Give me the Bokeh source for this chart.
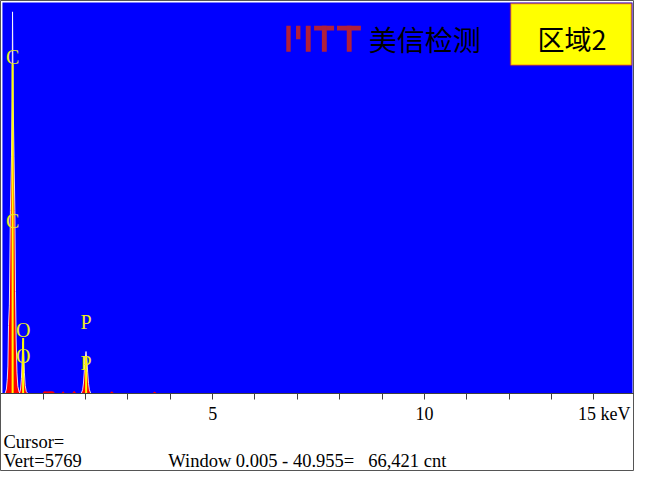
from bokeh.plotting import figure
from bokeh.models import (Range1d, FixedTicker, Label, BoxAnnotation,
                          ColumnDataSource, LinearAxis)
from bokeh.core.properties import value
from bokeh.embed import file_html
from bokeh.resources import INLINE

# ---------------- data ----------------
# C K peak
C_KEV = [0.10, 0.13, 0.15, 0.165, 0.18, 0.20, 0.225, 0.25, 0.265, 0.275, 0.29,
         0.31, 0.33, 0.345, 0.36, 0.38, 0.40, 0.43, 0.46]
C_CNT = [0, 60, 200, 400, 1000, 1300, 2700, 3500, 4300, 5630, 4300,
         3500, 2700, 1500, 800, 300, 100, 20, 0]
# O K peak
O_KEV = [0.44, 0.465, 0.485, 0.50, 0.515, 0.525, 0.54, 0.555, 0.575, 0.60, 0.63]
O_CNT = [0, 60, 220, 460, 700, 760, 560, 300, 110, 25, 0]
# P K peak
P_KEV = [1.90, 1.93, 1.95, 1.97, 1.99, 2.01, 2.03, 2.05, 2.07, 2.09, 2.12]
P_CNT = [0, 50, 150, 330, 520, 615, 500, 300, 140, 50, 0]
# small background bumps
T1_KEV = [0.98, 1.02, 1.10, 1.18, 1.24, 1.28]
T1_CNT = [0, 30, 25, 30, 25, 0]
T2_KEV = [1.43, 1.47, 1.51]
T2_CNT = [0, 30, 0]
T3_KEV = [1.68, 1.73, 1.78]
T3_CNT = [0, 35, 0]
T4_KEV = [2.57, 2.62, 2.67]
T4_CNT = [0, 30, 0]
T5_KEV = [3.58, 3.63, 3.68]
T5_CNT = [0, 25, 0]

# element markers
ELEMENTS = ["C", "O", "P"]
LINE_KEV = [0.277, 0.525, 2.013]
MARK_TOP = [4855, 814, 530]
LABEL_HI = [4970, 928, 1057]
LABEL_LO = [2540, 543, 443]

TICKS = list(range(1, 15))
TICK_LABELS = {5: "5", 10: "10"}
VERT = 5769
CURSOR_TEXT = "Cursor="
VERT_TEXT = "Vert=5769"
WINDOW_TEXT = "Window 0.005 - 40.955="
COUNT_TEXT = "66,421 cnt"
UNIT_TEXT = "15 keV"
LOGO_TEXT = "美信检测"
AREA_TEXT = "区域2"

# ---------------- layout helpers ----------------
# the plot frame covers the whole canvas; reference pixels map linearly
FIG_W, FIG_H = 634, 471
REF_W, REF_H = 650, 487
PX_PER_KEV = 43.42            # reference pixels per keV
REF_ZERO_X = 0.4              # reference pixel column of 0 keV
REF_ZERO_Y = 406              # reference pixel row of 0 counts
REF_TOP_Y = 2                 # reference pixel row of full scale (VERT)
CNT_PER_PX = VERT / (REF_ZERO_Y - REF_TOP_Y)


def rx(xr):
    return (xr - REF_ZERO_X) / PX_PER_KEV


def ry(yr):
    return (REF_ZERO_Y - yr) * CNT_PER_PX


BLUE = "#0000FF"
RED = "#FF0000"
YELLOW = "#FFFF00"
LABEL_YELLOW = "#EEEE20"
SERIF = "Liberation Serif"
CJK = "Noto Sans CJK SC"
TICK_FS = "18px"
TEXT_FS = "18.5px"

p = figure(width=FIG_W, height=FIG_H,
           x_range=Range1d(rx(0), rx(REF_W)), y_range=Range1d(ry(REF_H), ry(0)),
           output_backend="svg", toolbar_location=None,
           x_axis_location=None, y_axis_location=None,
           min_border=0)
p.background_fill_color = "white"
p.border_fill_color = "white"
p.outline_line_color = "#555555"
p.outline_line_width = 1
p.xgrid.visible = False
p.ygrid.visible = False

# blue spectrum area
p.add_layout(BoxAnnotation(left=rx(2), right=rx(648), top=ry(2), bottom=0,
                           fill_color=BLUE, fill_alpha=1.0, line_color=None,
                           level="underlay"))

ax = LinearAxis(fixed_location=0)
ax.ticker = FixedTicker(ticks=TICKS)
ax.major_label_overrides = {t: TICK_LABELS.get(t, "") for t in TICKS}
ax.axis_line_color = "#404040"
ax.axis_line_width = 1
ax.major_tick_line_color = "#404040"
ax.major_tick_out = 6
ax.major_tick_in = 0
ax.minor_tick_line_color = None
ax.major_label_text_font = SERIF
ax.major_label_text_font_size = TICK_FS
ax.major_label_text_color = "black"
ax.major_label_standoff = 8
p.add_layout(ax, "below")

# ---------------- spectrum ----------------
for kev, cnt in [(C_KEV, C_CNT), (O_KEV, O_CNT), (P_KEV, P_CNT),
                 (T1_KEV, T1_CNT), (T2_KEV, T2_CNT), (T3_KEV, T3_CNT),
                 (T4_KEV, T4_CNT), (T5_KEV, T5_CNT)]:
    src = ColumnDataSource(dict(x=kev, y=cnt, z=[0] * len(kev)))
    p.varea(x="x", y1="z", y2="y", source=src, fill_color=RED)
    if max(cnt) > 100:
        p.line(x="x", y="y", source=src, line_color="white",
               line_width=1, line_alpha=0.85)

# element marker lines
msrc = ColumnDataSource(dict(x=LINE_KEV, top=MARK_TOP, z=[0] * len(LINE_KEV),
                             hi=LABEL_HI, lo=LABEL_LO, t=ELEMENTS))
p.segment(x0="x", y0="z", x1="x", y1="top", source=msrc,
          line_color=YELLOW, line_width=2)
p.text(x="x", y="hi", text="t", source=msrc, text_color=LABEL_YELLOW,
       text_font=value(SERIF), text_font_size="20px",
       text_align="center", text_baseline="middle")
p.text(x="x", y="lo", text="t", source=msrc, text_color=LABEL_YELLOW,
       text_font=value(SERIF), text_font_size="20px",
       text_align="center", text_baseline="middle")

# ---------------- logo ----------------
LOGO_COLOR = "#B0203A"
LOGO_BARS = [  # reference pixel boxes (x0, x1, y0, y1)
    (293, 297.5, 26, 53), (303, 307.5, 26, 40), (313, 318, 26, 53),
    (321.5, 342, 26, 31), (329.5, 334.5, 26, 53),
    (345, 369.5, 26, 31), (355, 360, 26, 53),
]
for (a, b, c, d) in LOGO_BARS:
    p.add_layout(BoxAnnotation(left=rx(a), right=rx(b), top=ry(c), bottom=ry(d),
                               fill_color=LOGO_COLOR, fill_alpha=1.0,
                               line_color=None))
p.add_layout(Label(x=rx(435), y=ry(40), text=LOGO_TEXT, text_font=CJK,
                   text_font_size="28px", text_color="black",
                   text_align="center", text_baseline="middle"))

# area box
p.add_layout(BoxAnnotation(left=rx(523), right=rx(647), top=ry(3), bottom=ry(67),
                           fill_color=YELLOW, fill_alpha=1.0,
                           line_color=RED, line_width=2))
p.add_layout(Label(x=rx(586), y=ry(39), text=AREA_TEXT, text_font=CJK,
                   text_font_size="27px", text_color="black",
                   text_align="center", text_baseline="middle"))

# ---------------- bottom texts ----------------
p.add_layout(Label(x=rx(646), y=ry(428), text=UNIT_TEXT, text_font=SERIF,
                   text_font_size=TICK_FS, text_color="black",
                   text_align="right", text_baseline="middle"))
p.add_layout(Label(x=rx(3), y=ry(457), text=CURSOR_TEXT, text_font=SERIF,
                   text_font_size=TEXT_FS, text_color="black",
                   text_align="left", text_baseline="alphabetic"))
p.add_layout(Label(x=rx(3), y=ry(476), text=VERT_TEXT, text_font=SERIF,
                   text_font_size=TEXT_FS, text_color="black",
                   text_align="left", text_baseline="alphabetic"))
p.add_layout(Label(x=rx(172), y=ry(476), text=WINDOW_TEXT, text_font=SERIF,
                   text_font_size=TEXT_FS, text_color="black",
                   text_align="left", text_baseline="alphabetic"))
p.add_layout(Label(x=rx(377), y=ry(476), text=COUNT_TEXT, text_font=SERIF,
                   text_font_size=TEXT_FS, text_color="black",
                   text_align="left", text_baseline="alphabetic"))

open("out.html", "w").write(file_html(p, INLINE))
